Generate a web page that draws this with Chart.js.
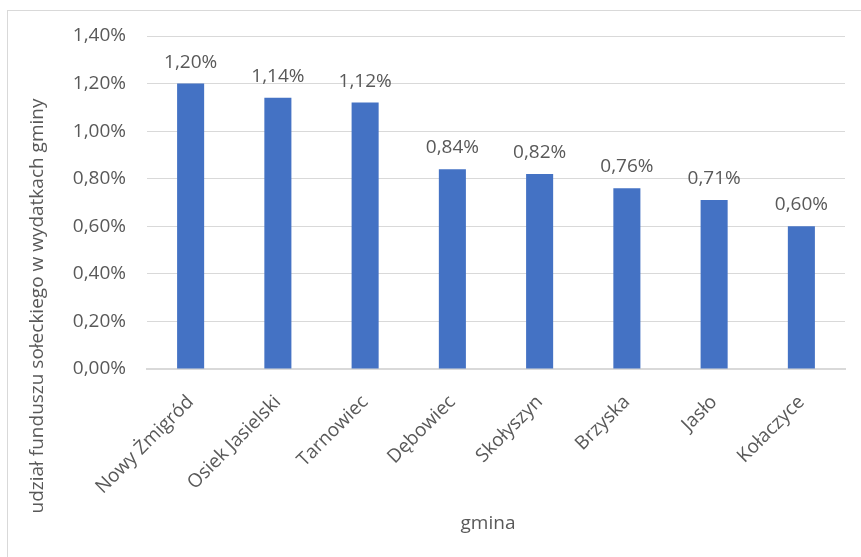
<!DOCTYPE html>
<html>
<head>
<meta charset="utf-8">
<script src="https://cdn.jsdelivr.net/npm/chart.js@4.4.0/dist/chart.umd.min.js"></script>
<style>
  html, body { margin: 0; padding: 0; background: #fff; }
  #wrap { position: relative; width: 861px; height: 557px; overflow: hidden; }
  #frame { position: absolute; left: 7px; top: 10px; width: 900px; height: 600px;
           border-left: 1px solid #d9d9d9; border-top: 1px solid #d9d9d9; }
  canvas { position: absolute; left: 0; top: 0; }
</style>
</head>
<body>
<div id="wrap">
  <div id="frame"></div>
  <canvas id="chart" width="861" height="557"></canvas>
</div>
<script>
var gminy = ["Nowy Żmigród", "Osiek Jasielski", "Tarnowiec", "Dębowiec", "Skołyszyn", "Brzyska", "Jasło", "Kołaczyce"]
var udzial = [1.20, 1.14, 1.12, 0.84, 0.82, 0.76, 0.71, 0.60]
var yTicks = [0, 0.2, 0.4, 0.6, 0.8, 1.0, 1.2, 1.4]
var yTitle = "udział funduszu sołeckiego w wydatkach gminy"
var xTitle = "gmina"

var fontFam = "'Open Sans', 'Noto Sans', sans-serif"
var fontSize = 19
var grey = "#595959"

function pct(v) {
  return v.toFixed(2).replace(".", ",") + "%"
}

// labels above bars + axis titles (drawn by hand to place them like the original)
var extras = {
  id: "extras",
  afterDatasetsDraw: (chart) => {
    var ctx = chart.ctx
    var meta = chart.getDatasetMeta(0)
    ctx.save()
    ctx.font = fontSize + "px " + fontFam
    ctx.fillStyle = grey
    ctx.textAlign = "center"
    ctx.textBaseline = "alphabetic"
    meta.data.forEach((bar, i) => {
      ctx.fillText(pct(udzial[i]), bar.x, bar.y - 16)
    })

    //axis titles
    ctx.textBaseline = "middle"
    ctx.fillText(xTitle, 488, 524)
    ctx.translate(38, 306)
    ctx.rotate(-Math.PI / 2)
    ctx.fillText(yTitle, 0, 0)
    ctx.restore()
  }
}

Chart.defaults.font.family = fontFam
Chart.defaults.font.size = fontSize
Chart.defaults.color = grey

new Chart(document.getElementById("chart"), {
  type: "bar",
  data: {
    labels: gminy,
    datasets: [{
      data: udzial,
      backgroundColor: "#4472c4",
      categoryPercentage: 1,
      barPercentage: 0.31
    }]
  },
  options: {
    responsive: false,
    animation: false,
    layout: { padding: { left: 0, right: 16, top: 36, bottom: 0 } },
    plugins: { legend: { display: false }, tooltip: { enabled: false } },
    scales: {
      x: {
        grid: { display: false, drawTicks: false },
        border: { color: "#d9d9d9", width: 2 },
        ticks: { maxRotation: 45, minRotation: 45, padding: 22 },
        afterFit: (s) => { s.height = 188 }
      },
      y: {
        min: 0,
        max: 1.4,
        afterBuildTicks: (s) => { s.ticks = yTicks.map(v => ({ value: v })) },
        grid: { color: "#d9d9d9", lineWidth: 1, drawTicks: false },
        border: { display: false },
        ticks: { padding: 21, callback: (v) => pct(v) },
        afterFit: (s) => { s.width = 147 }
      }
    }
  },
  plugins: [extras]
})
</script>
</body>
</html>
